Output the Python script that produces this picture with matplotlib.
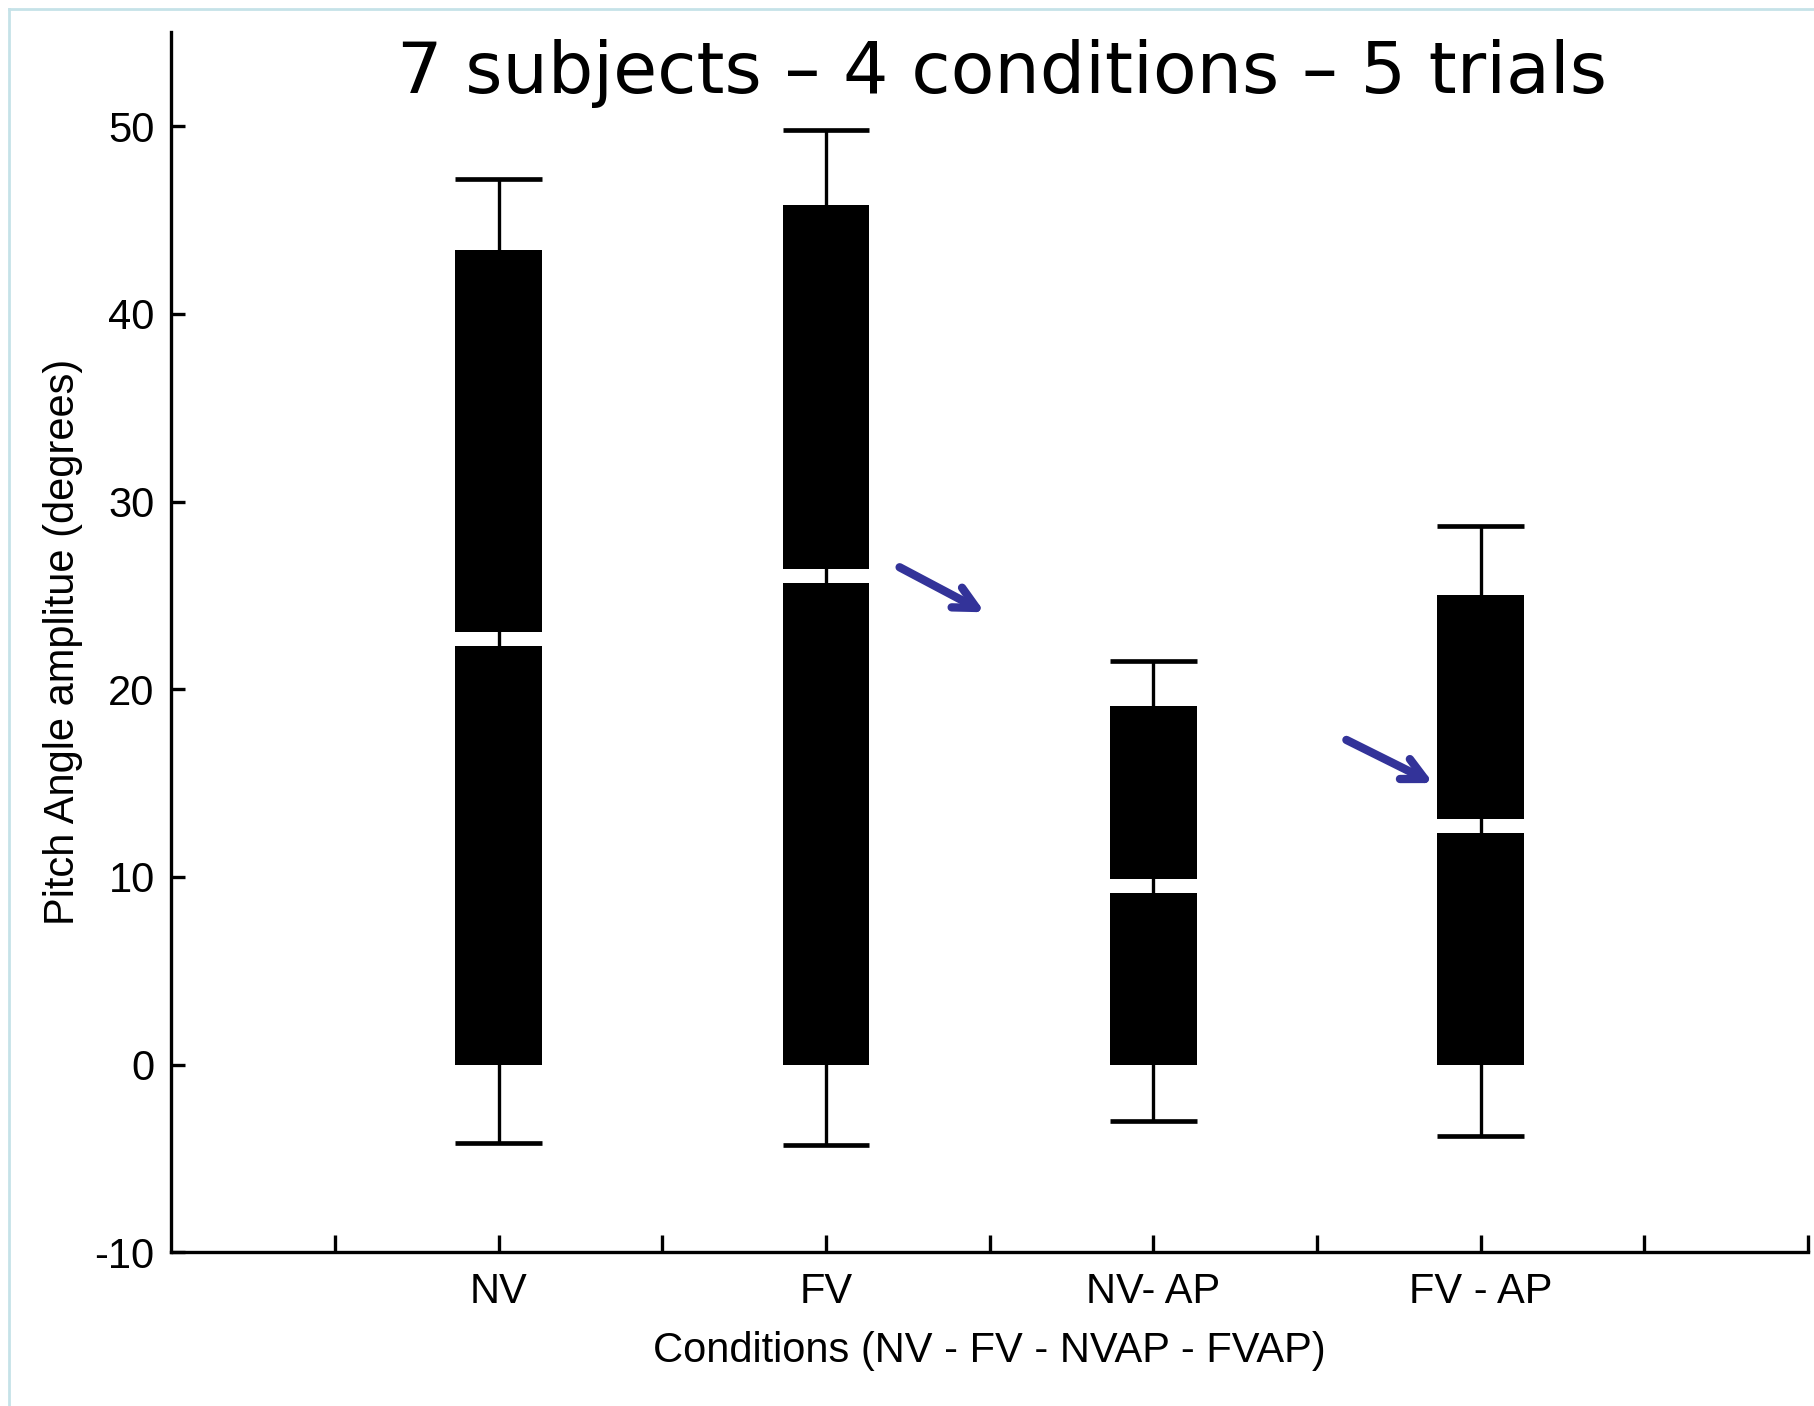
import matplotlib
matplotlib.use("Agg")
import matplotlib.pyplot as plt
from matplotlib.lines import Line2D

plt.rcParams['axes.unicode_minus'] = False

# ---------- data ----------
conditions = ['NV', 'FV', 'NV- AP', 'FV - AP']
positions = [2, 4, 6, 8]
box_top = [43.4, 45.8, 19.1, 25.0]
mean_val = [22.7, 26.05, 9.5, 12.7]
whisk_hi = [47.2, 49.8, 21.5, 28.7]
whisk_lo = [-4.15, -4.3, -3.0, -3.8]

# arrows: (x_start, y_start, x_end, y_end) in data units
arrows = [(4.45, 26.5, 4.97, 24.1),
          (7.18, 17.3, 7.71, 15.0)]

# ---------- style ----------
bar_w = 0.53
gap = 0.37
lw = 2.4
tick_font = ['Liberation Sans Narrow', 'Liberation Sans', 'DejaVu Sans']

fig = plt.figure(figsize=(18.15, 14.06), dpi=100)
ax = fig.add_axes([0.0944, 0.1093, 0.9017, 0.8677])

for x, top, m, hi, lo in zip(positions, box_top, mean_val, whisk_hi, whisk_lo):
    # whisker stem behind the bars, shows only in the gap
    ax.plot([x, x], [lo, hi], color='black', lw=lw, zorder=1, solid_capstyle='butt')
    ax.plot([x - bar_w / 2, x + bar_w / 2], [hi, hi], color='black', lw=lw * 1.4,
            zorder=1, solid_capstyle='butt')
    ax.plot([x - bar_w / 2, x + bar_w / 2], [lo, lo], color='black', lw=lw * 1.4,
            zorder=1, solid_capstyle='butt')
    ax.bar(x, m - gap, width=bar_w, bottom=0, color='black', zorder=2)
    ax.bar(x, top - (m + gap), width=bar_w, bottom=m + gap, color='black', zorder=2)

for x0, y0, x1, y1 in arrows:
    ax.annotate('', xy=(x1, y1), xytext=(x0, y0),
                arrowprops=dict(arrowstyle='->,head_length=1.6,head_width=0.8',
                                color='#333399', lw=6, shrinkA=0, shrinkB=0,
                                capstyle='round', joinstyle='round'))

ax.set_xlim(0, 10)
ax.set_ylim(-10, 55)
ax.set_xticks(range(1, 11))
ax.set_xticklabels(['', 'NV', '', 'FV', '', 'NV- AP', '', 'FV - AP', '', ''])
ax.set_yticks([-10, 0, 10, 20, 30, 40, 50])

for s in ['top', 'right']:
    ax.spines[s].set_visible(False)
for s in ['left', 'bottom']:
    ax.spines[s].set_linewidth(lw)

ax.tick_params(axis='y', direction='in', length=10, width=lw, pad=12)
ax.tick_params(axis='x', direction='in', length=12, width=lw, pad=14)
for lab in ax.get_xticklabels() + ax.get_yticklabels():
    lab.set_family(tick_font)
    lab.set_fontsize(30)

ax.set_xlabel('Conditions (NV - FV - NVAP - FVAP)', family=tick_font, fontsize=30, labelpad=14)
ax.set_ylabel('Pitch Angle amplitue (degrees)', family=tick_font, fontsize=30, labelpad=8)

fig.text(0.5523, 0.934, '7 subjects \u2013 4 conditions \u2013 5 trials', ha='center', va='baseline',
         fontsize=51.5, family='DejaVu Sans')

# light frame lines along top and left edges
fig.add_artist(Line2D([0.0047, 1], [0.9937, 0.9937], color='#c5e2e8', lw=2, transform=fig.transFigure))
fig.add_artist(Line2D([0.0047, 0.0047], [0, 0.9937], color='#c5e2e8', lw=2, transform=fig.transFigure))

fig.savefig('out.png', dpi=100)
